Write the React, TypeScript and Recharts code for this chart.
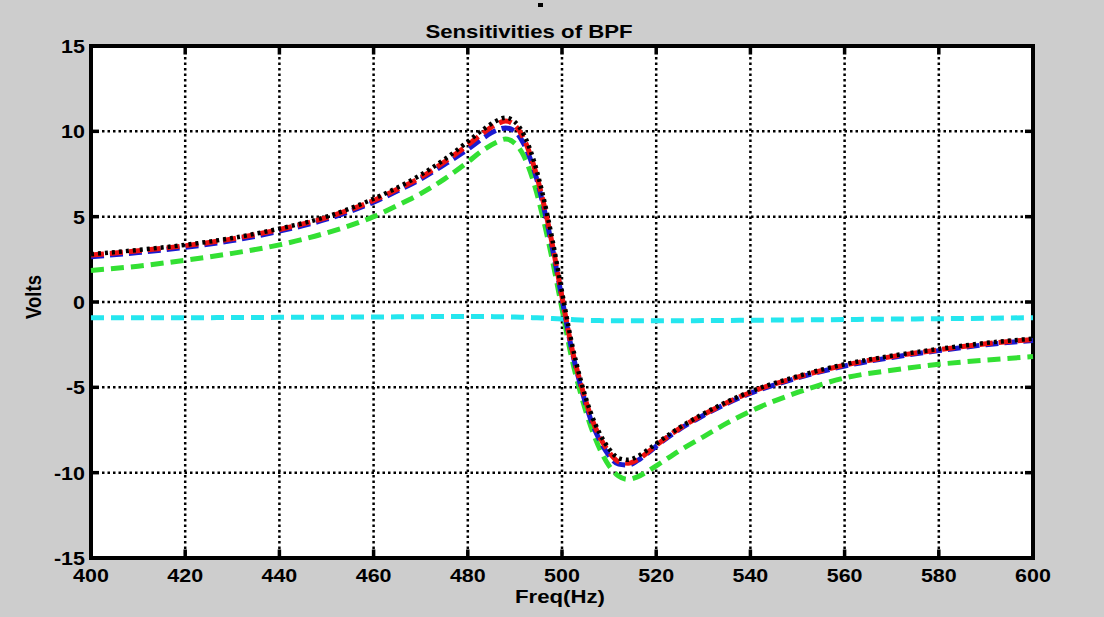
import { CartesianGrid, Line, LineChart, ReferenceArea, ReferenceLine, XAxis, YAxis } from 'recharts';

// Frequency points (Hz) shared by every curve.
const FREQ = [
  400, 410, 420, 430, 440, 450, 460, 465, 470, 475, 480, 483, 486, 488, 490, 492, 494, 496, 498, 500,
  502, 504, 506, 508, 510, 512, 514, 516, 518, 520, 525, 530, 535, 540, 550, 560, 570, 580, 590, 600,
];

const BLACK = [
  2.8, 3.05, 3.35, 3.75, 4.3, 5.0, 6.05, 6.7, 7.45, 8.35, 9.4, 10.05, 10.6, 10.8, 10.55, 9.75, 8.3, 6.2, 3.6, 0.6,
  -2.3, -4.6, -6.4, -7.7, -8.6, -9.15, -9.25, -9.05, -8.7, -8.3, -7.35, -6.55, -5.85, -5.25, -4.35, -3.65, -3.15, -2.75, -2.4, -2.15,
];
const BLUE = [
  2.65, 2.9, 3.2, 3.6, 4.15, 4.85, 5.85, 6.5, 7.2, 8.05, 8.95, 9.55, 10.05, 10.2, 10.0, 9.2, 7.8, 5.7, 3.1, 0.2,
  -2.7, -4.95, -6.8, -8.1, -9.0, -9.5, -9.55, -9.3, -8.9, -8.45, -7.45, -6.65, -5.95, -5.35, -4.45, -3.75, -3.25, -2.85, -2.5, -2.25,
];
const RED = [
  2.75, 3.0, 3.3, 3.7, 4.25, 4.95, 5.95, 6.6, 7.3, 8.2, 9.2, 9.85, 10.4, 10.6, 10.35, 9.5, 8.0, 5.9, 3.3, 0.3,
  -2.6, -4.8, -6.6, -7.9, -8.8, -9.35, -9.45, -9.25, -8.85, -8.4, -7.4, -6.6, -5.9, -5.3, -4.4, -3.7, -3.2, -2.8, -2.45, -2.2,
];
const GREEN = [
  1.85, 2.1, 2.45, 2.85, 3.35, 4.05, 5.0, 5.65, 6.35, 7.2, 8.2, 8.85, 9.35, 9.55, 9.3, 8.5, 7.0, 4.9, 2.4, -0.4,
  -3.2, -5.4, -7.2, -8.6, -9.6, -10.2, -10.4, -10.25, -9.95, -9.6, -8.7, -7.9, -7.1, -6.4, -5.3, -4.45, -4.0, -3.65, -3.4, -3.2,
];
const CYAN = [
  -0.93, -0.92, -0.92, -0.91, -0.9, -0.89, -0.88, -0.87, -0.86, -0.85, -0.85, -0.85, -0.86, -0.87, -0.88, -0.9, -0.92, -0.94, -0.97, -1.0,
  -1.03, -1.06, -1.08, -1.09, -1.1, -1.1, -1.1, -1.1, -1.1, -1.1, -1.1, -1.09, -1.08, -1.07, -1.05, -1.03, -1.0, -0.98, -0.95, -0.92,
];

const X_TICKS = [400, 420, 440, 460, 480, 500, 520, 540, 560, 580, 600];
const Y_TICKS = [-15, -10, -5, 0, 5, 10, 15];

const data = FREQ.map((f, i) => ({
  f,
  black: BLACK[i],
  blue: BLUE[i],
  red: RED[i],
  green: GREEN[i],
  cyan: CYAN[i],
}));

const W = 1104;
const H = 617;
const LEFT = 91;
const TOP = 46;
const RIGHT = 1033;
const BOTTOM = 558;
const FONT = '"Liberation Sans", Arial, sans-serif';
// inward tick length, in data units
const TICK_DY = 0.5;
const TICK_DX = 1.7;

function XTick({ x, y, payload }: any) {
  return (
    <text
      transform={`translate(${x},${y + 24}) scale(1.13,1)`}
      textAnchor="middle"
      fontFamily={FONT}
      fontWeight="bold"
      fontSize={19}
      fill="#000"
    >
      {payload.value}
    </text>
  );
}

function YTick({ x, y, payload }: any) {
  return (
    <text
      transform={`translate(${x - 6},${y + 7}) scale(1.13,1)`}
      textAnchor="end"
      fontFamily={FONT}
      fontWeight="bold"
      fontSize={19}
      fill="#000"
    >
      {payload.value}
    </text>
  );
}

export default function App() {
  return (
    <div style={{ position: 'relative', width: W, height: H, background: '#cdcdcd' }}>
      <style>{'body{margin:0}'}</style>
      {/* white axes background, drawn under the chart svg */}
      <div
        style={{
          position: 'absolute',
          left: LEFT,
          top: TOP,
          width: RIGHT - LEFT,
          height: BOTTOM - TOP,
          background: '#fff',
          boxShadow: '0 0 0 2px #000',
        }}
      />
      <div style={{ position: 'absolute', left: 0, top: 0 }}>
        <LineChart
          width={W}
          height={H}
          data={data}
          margin={{ top: TOP, right: W - RIGHT, bottom: 0, left: 0 }}
        >
          <CartesianGrid stroke="#000" strokeWidth={2.5} strokeDasharray="2.5 3" />
          <XAxis
            dataKey="f"
            type="number"
            domain={[400, 600]}
            ticks={X_TICKS}
            interval={0}
            height={H - BOTTOM}
            tickSize={0}
            tickMargin={0}
            axisLine={false}
            tickLine={false}
            tick={<XTick />}
          />
          <YAxis
            type="number"
            domain={[-15, 15]}
            ticks={Y_TICKS}
            interval={0}
            width={LEFT}
            tickSize={0}
            tickMargin={0}
            axisLine={false}
            tickLine={false}
            tick={<YTick />}
          />
          <Line dataKey="cyan" type="monotone" stroke="#25e6ee" strokeWidth={5} strokeDasharray="13 7" dot={false} activeDot={false} isAnimationActive={false} />
          <Line dataKey="green" type="monotone" stroke="#33e033" strokeWidth={5} strokeDasharray="13 7" dot={false} activeDot={false} isAnimationActive={false} />
          <Line dataKey="blue" type="monotone" stroke="#1a1ad0" strokeWidth={5} strokeDasharray="13 6" dot={false} activeDot={false} isAnimationActive={false} />
          <Line dataKey="red" type="monotone" stroke="#ee1111" strokeWidth={5} strokeDasharray="13 6" dot={false} activeDot={false} isAnimationActive={false} />
          <Line dataKey="black" type="monotone" stroke="#000" strokeWidth={4.5} strokeDasharray="3 4" dot={false} activeDot={false} isAnimationActive={false} />
          {X_TICKS.map((t) => (
            <ReferenceLine key={`xb${t}`} segment={[{ x: t, y: -15 }, { x: t, y: -15 + TICK_DY }]} stroke="#000" strokeWidth={3.5} />
          ))}
          {X_TICKS.map((t) => (
            <ReferenceLine key={`xt${t}`} segment={[{ x: t, y: 15 }, { x: t, y: 15 - TICK_DY }]} stroke="#000" strokeWidth={3.5} />
          ))}
          {Y_TICKS.map((t) => (
            <ReferenceLine key={`yl${t}`} segment={[{ x: 400, y: t }, { x: 400 + TICK_DX, y: t }]} stroke="#000" strokeWidth={3.5} />
          ))}
          {Y_TICKS.map((t) => (
            <ReferenceLine key={`yr${t}`} segment={[{ x: 600, y: t }, { x: 600 - TICK_DX, y: t }]} stroke="#000" strokeWidth={3.5} />
          ))}
          <ReferenceArea x1={400} x2={600} y1={-15} y2={15} fill="none" stroke="#000" strokeWidth={4} ifOverflow="visible" />
        </LineChart>
      </div>
      <svg
        width={W}
        height={H}
        style={{ position: 'absolute', left: 0, top: 0, pointerEvents: 'none' }}
      >
        <rect x={538} y={3} width={5} height={4} fill="#000" />
        <text
          transform="translate(529,38) scale(1.2,1)"
          textAnchor="middle"
          fontFamily={FONT}
          fontWeight="bold"
          fontSize={18.5}
          fill="#000"
        >
          Sensitivities of BPF
        </text>
        <text
          transform="translate(41,297) rotate(-90) scale(1,1.15)"
          textAnchor="middle"
          fontFamily={FONT}
          fontWeight="bold"
          fontSize={18.5}
          fill="#000"
        >
          Volts
        </text>
        <text
          transform="translate(560,603) scale(1.2,1)"
          textAnchor="middle"
          fontFamily={FONT}
          fontWeight="bold"
          fontSize={18.5}
          fill="#000"
        >
          Freq(Hz)
        </text>
      </svg>
    </div>
  );
}
